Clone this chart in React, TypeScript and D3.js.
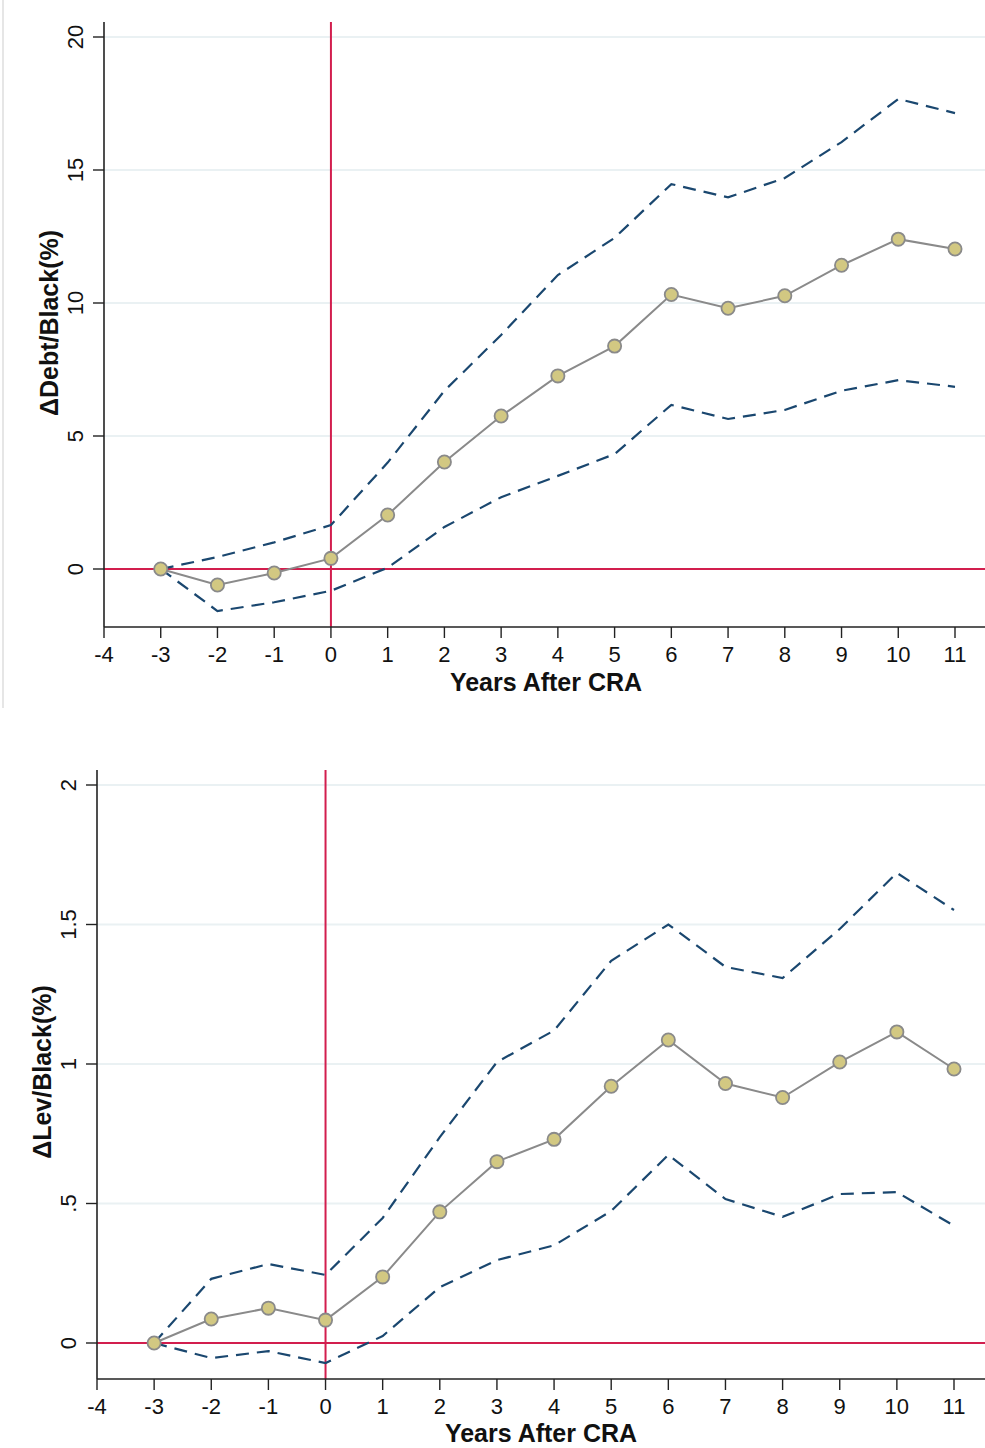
import React from 'react';
import * as d3 from 'd3';

// event time (years after CRA)
const years = [-3, -2, -1, 0, 1, 2, 3, 4, 5, 6, 7, 8, 9, 10, 11];
const xTicks = [-4, -3, -2, -1, 0, 1, 2, 3, 4, 5, 6, 7, 8, 9, 10, 11];

// top panel: debt
const debtMean = [0, -0.6, -0.15, 0.4, 2.03, 4.02, 5.75, 7.26, 8.38, 10.32, 9.8, 10.27, 11.42, 12.4, 12.03];
const debtUpper = [0, 0.45, 1.0, 1.65, 4.0, 6.7, 8.8, 11.05, 12.45, 14.47, 13.97, 14.7, 16.05, 17.67, 17.14];
const debtLower = [0, -1.58, -1.25, -0.82, 0.05, 1.58, 2.7, 3.5, 4.32, 6.17, 5.64, 5.98, 6.7, 7.1, 6.85];
const debtTicks = [0, 5, 10, 15, 20];
const debtTickLabels = ['0', '5', '10', '15', '20'];

// bottom panel: leverage
const levMean = [0, 0.086, 0.125, 0.082, 0.237, 0.47, 0.65, 0.73, 0.92, 1.086, 0.93, 0.88, 1.007, 1.115, 0.982];
const levUpper = [0, 0.23, 0.283, 0.244, 0.448, 0.738, 1.007, 1.12, 1.37, 1.5, 1.348, 1.308, 1.484, 1.685, 1.552];
const levLower = [0, -0.054, -0.029, -0.072, 0.025, 0.2, 0.297, 0.35, 0.473, 0.674, 0.516, 0.452, 0.534, 0.541, 0.42];
const levTicks = [0, 0.5, 1, 1.5, 2];
const levTickLabels = ['0', '.5', '1', '1.5', '2'];

const RED = '#d21e4e';
const NAVY = '#1a476f';
const GREY = '#8a8a8a';
const KHAKI = '#d2c882';
const GRID = '#eaf1f3';
const FONT = '"Liberation Sans", Arial, Helvetica, sans-serif';

type PanelProps = {
  mean: number[];
  upper: number[];
  lower: number[];
  ticks: number[];
  tickLabels: string[];
  yDomain: [number, number];
  yRange: [number, number]; // pixel y of domain[0], domain[1]
  xRange: [number, number]; // pixel x of -4, 11
  axisTop: number;
  axisBottom: number;
  yLabel: string;
  yLabelX: number;
  yLabelY: number;
  tickLabelX: number;
  xTitleY: number;
  xTitleX: number;
};

const Panel = (p: PanelProps) => {
  const x = d3.scaleLinear().domain([-4, 11]).range(p.xRange);
  const y = d3.scaleLinear().domain(p.yDomain).range(p.yRange);
  const left = p.xRange[0];
  const right = 985;

  const line = d3.line<number>()
    .x((_, i) => x(years[i]))
    .y(d => y(d));

  return (
    <g>
      {/* gridlines */}
      {p.ticks.filter(t => t !== 0).map(t => (
        <line key={'g' + t} x1={left} x2={right} y1={y(t)} y2={y(t)} stroke={GRID} strokeWidth={2} />
      ))}

      {/* reference lines */}
      <line x1={left} x2={right} y1={y(0)} y2={y(0)} stroke={RED} strokeWidth={2} />
      <line x1={x(0)} x2={x(0)} y1={p.axisTop} y2={p.axisBottom} stroke={RED} strokeWidth={2} />

      {/* confidence bands */}
      <path d={line(p.upper) || ''} fill="none" stroke={NAVY} strokeWidth={2.2} strokeDasharray="13,8" />
      <path d={line(p.lower) || ''} fill="none" stroke={NAVY} strokeWidth={2.2} strokeDasharray="13,8" />

      {/* point estimates */}
      <path d={line(p.mean) || ''} fill="none" stroke={GREY} strokeWidth={2} />
      {p.mean.map((v, i) => (
        <circle key={'m' + i} cx={x(years[i])} cy={y(v)} r={6.6} fill={KHAKI} stroke={GREY} strokeWidth={1.8} />
      ))}

      {/* y axis */}
      <line x1={left} x2={left} y1={p.axisTop} y2={p.axisBottom} stroke="#222" strokeWidth={1.6} />
      {p.ticks.map((t, i) => (
        <g key={'yt' + t}>
          <line x1={left - 11} x2={left} y1={y(t)} y2={y(t)} stroke="#222" strokeWidth={1.4} />
          <text
            transform={`translate(${p.tickLabelX},${y(t)}) rotate(-90)`}
            textAnchor="middle"
            dy="0.35em"
            fontSize={22}
            fontFamily={FONT}
            fill="#111"
          >{p.tickLabels[i]}</text>
        </g>
      ))}
      <text
        transform={`translate(${p.yLabelX},${p.yLabelY}) rotate(-90)`}
        textAnchor="middle"
        dy="0.35em"
        fontSize={25}
        fontWeight="bold"
        fontFamily={FONT}
        fill="#111"
      >{p.yLabel}</text>

      {/* x axis */}
      <line x1={left} x2={right} y1={p.axisBottom} y2={p.axisBottom} stroke="#222" strokeWidth={1.6} />
      {xTicks.map(t => (
        <g key={'xt' + t}>
          <line x1={x(t)} x2={x(t)} y1={p.axisBottom} y2={p.axisBottom + 11} stroke="#222" strokeWidth={1.4} />
          <text x={x(t)} y={p.axisBottom + 35} textAnchor="middle" fontSize={22} fontFamily={FONT} fill="#111">{t}</text>
        </g>
      ))}
      <text x={p.xTitleX} y={p.xTitleY} textAnchor="middle" fontSize={25} fontWeight="bold" fontFamily={FONT} fill="#111">
        Years After CRA
      </text>
    </g>
  );
};

export default function App() {
  return (
    <div style={{ position: 'absolute', left: 0, top: 0, width: 985, height: 1448, background: '#fff' }}>
      <svg width={985} height={1448} style={{ display: 'block' }}>
        <rect width={985} height={1448} fill="#fff" />
        <line x1={3} x2={3} y1={0} y2={708} stroke="#e6e6e6" strokeWidth={2} />
        <Panel
          mean={debtMean}
          upper={debtUpper}
          lower={debtLower}
          ticks={debtTicks}
          tickLabels={debtTickLabels}
          yDomain={[0, 20]}
          yRange={[569, 37]}
          xRange={[104, 955]}
          axisTop={22}
          axisBottom={627}
          yLabel="ΔDebt/Black(%)"
          yLabelX={49}
          yLabelY={323}
          tickLabelX={75}
          xTitleX={546}
          xTitleY={691}
        />
        <Panel
          mean={levMean}
          upper={levUpper}
          lower={levLower}
          ticks={levTicks}
          tickLabels={levTickLabels}
          yDomain={[0, 2]}
          yRange={[1343, 785]}
          xRange={[97, 954]}
          axisTop={770}
          axisBottom={1379}
          yLabel="ΔLev/Black(%)"
          yLabelX={42}
          yLabelY={1072}
          tickLabelX={68}
          xTitleX={541}
          xTitleY={1442}
        />
      </svg>
    </div>
  );
}
